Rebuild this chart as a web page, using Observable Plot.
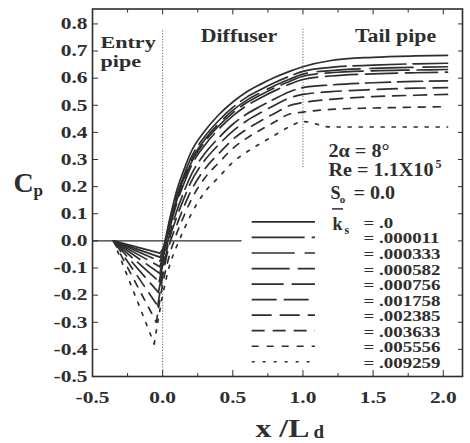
<!DOCTYPE html>
<html>
<head>
<meta charset="utf-8">
<script src="https://cdn.jsdelivr.net/npm/d3@7"></script>
<script src="https://cdn.jsdelivr.net/npm/@observablehq/plot@0.6"></script>
<style>
  html, body { margin: 0; padding: 0; background: #fff; }
</style>
</head>
<body>
<div id="chart"></div>
<script>
// Wall pressure coefficient along entry pipe, 8° conical diffuser and tail pipe
// for ten wall roughness levels (ks / D).

const roughness = [".0", ".000011", ".000333", ".000582", ".000756", ".001758", ".002385", ".003633", ".005556", ".009259"];

// entry pipe: from the reference tap down to the diffuser inlet
const entryStartX = -0.35;
const entryStartCp = 0;
const minX  = [-0.02, -0.02, -0.02, -0.02, -0.02, -0.025, -0.03, -0.035, -0.045, -0.06];
const minCp = [-0.045, -0.06, -0.075, -0.095, -0.12, -0.15, -0.19, -0.24, -0.30, -0.38];

// diffuser and tail pipe stations
const xStations = [0.0, 0.05, 0.1, 0.15, 0.2, 0.3, 0.4, 0.5, 0.6, 0.7, 0.8, 0.9, 1.0, 1.2, 1.5, 1.8, 2.03];
const cpKs0      = [-0.03, 0.08, 0.185, 0.26, 0.325, 0.405, 0.465, 0.512, 0.55, 0.578, 0.603, 0.624, 0.642, 0.665, 0.677, 0.682, 0.684];
const cpKs000011 = [-0.04, 0.07, 0.167, 0.24, 0.304, 0.385, 0.444, 0.492, 0.53, 0.558, 0.584, 0.606, 0.625, 0.64, 0.648, 0.653, 0.655];
const cpKs000333 = [-0.05, 0.065, 0.156, 0.229, 0.293, 0.373, 0.433, 0.481, 0.519, 0.547, 0.573, 0.595, 0.615, 0.628, 0.636, 0.64, 0.642];
const cpKs000582 = [-0.06, 0.055, 0.148, 0.22, 0.284, 0.365, 0.424, 0.472, 0.51, 0.539, 0.565, 0.587, 0.607, 0.62, 0.627, 0.63, 0.632];
const cpKs000756 = [-0.07, 0.045, 0.138, 0.209, 0.272, 0.353, 0.412, 0.461, 0.499, 0.528, 0.554, 0.577, 0.595, 0.608, 0.616, 0.62, 0.622];
const cpKs001758 = [-0.09, 0.025, 0.109, 0.179, 0.24, 0.322, 0.38, 0.43, 0.468, 0.497, 0.524, 0.549, 0.565, 0.575, 0.583, 0.588, 0.59];
const cpKs002385 = [-0.11, 0.01, 0.087, 0.154, 0.215, 0.297, 0.355, 0.405, 0.443, 0.473, 0.501, 0.526, 0.54, 0.55, 0.558, 0.563, 0.565];
const cpKs003633 = [-0.13, -0.01, 0.058, 0.124, 0.182, 0.265, 0.322, 0.374, 0.412, 0.443, 0.471, 0.498, 0.51, 0.522, 0.532, 0.537, 0.54];
const cpKs005556 = [-0.16, -0.05, 0.027, 0.09, 0.148, 0.232, 0.288, 0.341, 0.379, 0.41, 0.439, 0.467, 0.475, 0.485, 0.49, 0.493, 0.495];
const cpKs009259 = [-0.20, -0.09, -0.02, 0.04, 0.095, 0.18, 0.235, 0.29, 0.328, 0.36, 0.39, 0.42, 0.44, 0.42, 0.42, 0.42, 0.42];

const yTicks = [-0.5, -0.4, -0.3, -0.2, -0.1, 0.0, 0.1, 0.2, 0.3, 0.4, 0.5, 0.6, 0.7, 0.8];
const xTicks = [-0.5, 0.0, 0.5, 1.0, 1.5, 2.0];
const xMinorTicks = [-0.25, 0.25, 0.75, 1.25, 1.75];

const series = [cpKs0, cpKs000011, cpKs000333, cpKs000582, cpKs000756,
                cpKs001758, cpKs002385, cpKs003633, cpKs005556, cpKs009259];

// line style for each roughness level
const dashes = [null, "53,7", "43,10", "38,8", "32,8", "25,7", "20,8", "13,8", "7,8", "3,8"];
const ink = "#2e2e2e";
const serif = "'Liberation Serif', 'Times New Roman', serif";

const curveMarks = series.flatMap((cp, i) => {
  const entry = [{x: entryStartX, cp: entryStartCp}, {x: minX[i], cp: minCp[i]}];
  const recovery = [{x: minX[i], cp: minCp[i]}, ...xStations.map((x, j) => ({x, cp: cp[j]}))];
  const style = {x: "x", y: "cp", stroke: ink, strokeWidth: 1.7};
  if (dashes[i]) style.strokeDasharray = dashes[i];
  return [
    Plot.line(entry, style),
    Plot.line(recovery, {...style, curve: "monotone-x"})
  ];
});

// legend rows, one per roughness level, stacked under the parameter block
const rowStep = 0.0573;
const legendRows = roughness.map((label, i) => ({label: "= " + label, y: 0.070 - rowStep * i}));
const legendMarks = legendRows.map((row, i) => {
  const style = {y: "y", x1: 0.638, x2: 1.089, stroke: ink, strokeWidth: 1.7};
  if (dashes[i]) style.strokeDasharray = dashes[i];
  return Plot.ruleY([row], style);
});

const label = (s, x, y, fontSize, anchor = "start") =>
  Plot.text([s], {x, y, text: d => d, textAnchor: anchor, lineAnchor: "bottom", fontSize, fill: ink});

const chart = Plot.plot({
  width: 470,
  height: 443,
  marginLeft: 92,
  marginRight: 8,
  marginTop: 8.5,
  marginBottom: 67,
  x: {domain: [-0.5, 2.137]},
  y: {domain: [-0.5, 0.855]},
  style: {fontFamily: serif, fontWeight: "bold", fontSize: "16px", background: "#fff", color: ink},
  marks: [
    // section boundaries and the zero line
    Plot.ruleX([0], {y1: -0.5, y2: 0.78, stroke: "#666", strokeWidth: 1, strokeDasharray: "1.2,1.6"}),
    Plot.ruleX([1], {y1: 0.27, y2: 0.78, stroke: "#666", strokeWidth: 1, strokeDasharray: "1.2,1.6"}),
    Plot.ruleY([0], {x1: -0.5, x2: 0.566, stroke: ink, strokeWidth: 1.2}),

    ...curveMarks,
    ...legendMarks,

    Plot.text(legendRows, {x: 1.432, y: "y", text: "label", textAnchor: "start", lineAnchor: "middle",
      dy: 1.5, fontSize: 14, fill: ink}),

    // section names
    label("Entry", -0.443, 0.7117, 17),
    label("pipe", -0.443, 0.6416, 17),
    label("Diffuser", 0.544, 0.734, 19, "middle"),
    label("Tail pipe", 1.66, 0.734, 19, "middle"),

    // flow parameters
    label("2α = 8°", 1.182, 0.31, 18),
    label("Re = 1.1X10", 1.182, 0.24, 18),
    label("5", 1.945, 0.269, 12),
    label("S", 1.196, 0.155, 18),
    label("o", 1.262, 0.14, 11),
    label("= 0.0", 1.36, 0.155, 18),
    label("k", 1.211, 0.041, 18),
    label("s", 1.296, 0.026, 12),
    Plot.ruleY([0.118], {x1: 1.211, x2: 1.289, stroke: ink, strokeWidth: 1.5}),

    // axis titles
    label("C", -1.063, 0.181, 28),
    label("p", -0.92, 0.166, 17),
    label("x /L", 0.662, -0.723, 26),
    label("d", 1.075, -0.727, 19),

    // axes with inward ticks on all four sides
    Plot.axisY(yTicks, {anchor: "left", tickSize: -6, tickPadding: 11, tickFormat: d => d.toFixed(1), fontSize: 16.5, label: null}),
    Plot.axisY(yTicks, {anchor: "right", tickSize: -5, tickFormat: () => "", label: null}),
    Plot.axisX(xTicks, {anchor: "bottom", tickSize: -6, tickPadding: 21, tickFormat: d => d.toFixed(1), fontSize: 16.5, label: null}),
    Plot.axisX(xMinorTicks, {anchor: "bottom", tickSize: -3, tickFormat: () => "", label: null}),
    Plot.axisX(xTicks, {anchor: "top", tickSize: -5, tickFormat: () => "", label: null}),
    Plot.axisX(xMinorTicks, {anchor: "top", tickSize: -3, tickFormat: () => "", label: null}),
    Plot.frame({stroke: ink, strokeWidth: 1.6})
  ]
});

document.getElementById("chart").append(chart);

// The printed lettering is broader than the installed serif: stretch glyphs
// horizontally about each text's own anchor point.
function widthFactor(s) {
  if (/^[-\u2212]?\d\.\d$/.test(s)) return 1.3;    // tick labels
  if (s.startsWith("= .")) return 1.35;            // roughness values
  if (s === "Entry" || s === "pipe") return 1.3;
  if (s === "Diffuser" || s === "Tail pipe") return 1.15;
  if (s === "2α = 8°" || s === "Re = 1.1X10" || s === "= 0.0") return 1.12;
  if (s === "x /L") return 1.22;
  return 1;
}
chart.querySelectorAll("text").forEach(t => {
  const f = widthFactor(t.textContent);
  if (f === 1) return;
  const x = t.x.baseVal.numberOfItems ? t.x.baseVal.getItem(0).value : 0;
  const tr = t.getAttribute("transform") || "";
  t.setAttribute("transform", `${tr} translate(${x},0) scale(${f},1) translate(${-x},0)`.trim());
});
</script>
</body>
</html>
